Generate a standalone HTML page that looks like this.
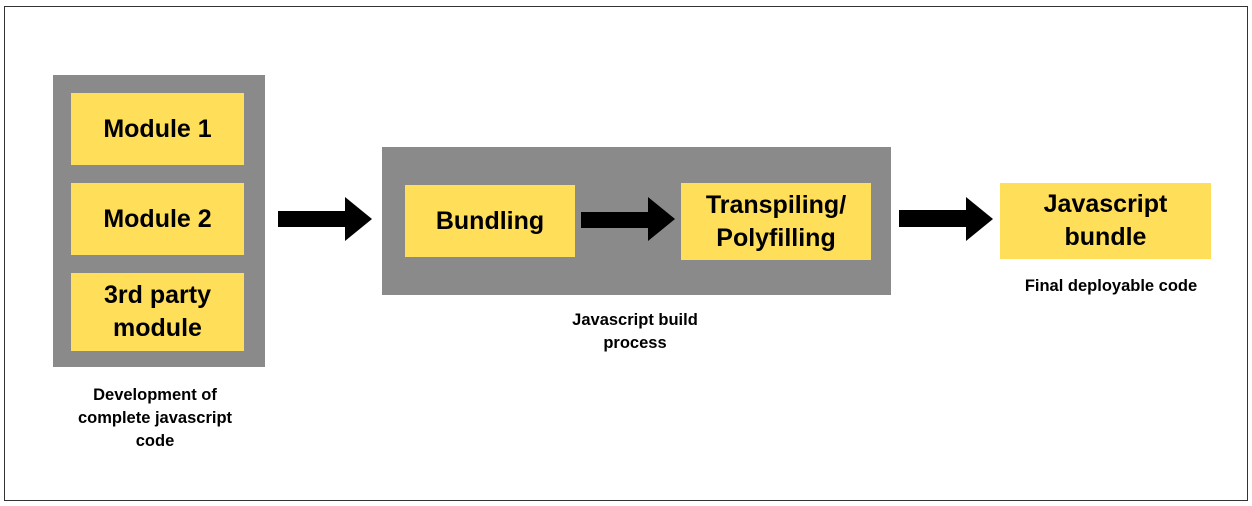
<!DOCTYPE html>
<html><head><style>
body{margin:0;width:1252px;height:506px;background:#fff;position:relative;overflow:hidden;font-family:"Liberation Sans",sans-serif;}
div{position:absolute;box-sizing:border-box;}
.g{background:#8a8a8a;}
.y{background:#ffde59;display:flex;align-items:center;justify-content:center;text-align:center;font-weight:bold;font-size:25px;line-height:33px;color:#000;}
.l{font-weight:bold;font-size:16.5px;line-height:23px;text-align:center;color:#000;}
</style></head><body>
<div style="left:4px;top:6px;width:1244px;height:495px;border:1px solid #333;"></div>
<div class="g" style="left:53px;top:75px;width:212px;height:292px;"></div>
<div class="y" style="left:71px;top:93px;width:173px;height:72px;">Module 1</div>
<div class="y" style="left:71px;top:183px;width:173px;height:72px;">Module 2</div>
<div class="y" style="left:71px;top:273px;width:173px;height:78px;">3rd party<br>module</div>
<div class="g" style="left:382px;top:147px;width:509px;height:148px;"></div>
<div class="y" style="left:405px;top:185px;width:170px;height:72px;">Bundling</div>
<div class="y" style="left:681px;top:183px;width:190px;height:77px;">Transpiling/<br>Polyfilling</div>
<div class="y" style="left:1000px;top:183px;width:211px;height:76px;">Javascript<br>bundle</div>
<svg style="position:absolute;left:0;top:0" width="1252" height="506">
<polygon points="278,211 345,211 345,197 372,219 345,241 345,227 278,227" fill="#000"/>
<polygon points="581,212 648,212 648,197 675,219 648,241 648,228 581,228" fill="#000"/>
<polygon points="899,210 966,210 966,197 993,219 966,241 966,227 899,227" fill="#000"/>
</svg>
<div class="l" style="left:45px;top:384px;width:220px;">Development of<br>complete javascript<br>code</div>
<div class="l" style="left:525px;top:309px;width:220px;">Javascript build<br>process</div>
<div class="l" style="left:996px;top:275px;width:230px;">Final deployable code</div>
</body></html>
